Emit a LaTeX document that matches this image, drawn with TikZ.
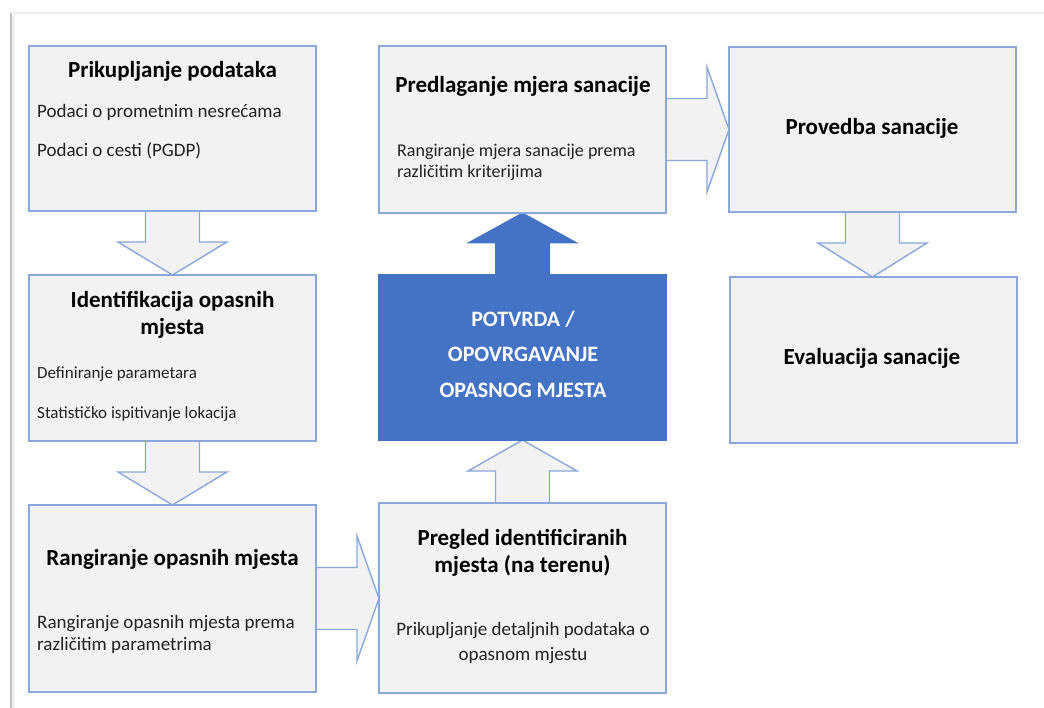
\documentclass[tikz,border=0pt]{standalone}
\usepackage{fontspec}
\setmainfont{Carlito}
\usetikzlibrary{calc,backgrounds}
\definecolor{bordblue}{HTML}{8AA8DC}
\definecolor{boxfill}{HTML}{F2F2F2}
\definecolor{darkblue}{HTML}{4472C4}
\definecolor{txt}{HTML}{222222}
\newcommand\dnarr[3]{\draw[#1] ($(#2.south)+(-27,-2)$) -- ($(#2.south)+(-27,31)$) -- ($(#2.south)+(-54.5,31)$) -- (#2.south |- #3.north) -- ($(#2.south)+(54.5,31)$) -- ($(#2.south)+(27,31)$) -- ($(#2.south)+(27,-2)$);}
\newcommand\uparr[3]{\draw[#1] ($(#2.north)+(-27,2)$) -- ($(#2.north)+(-27,-32)$) -- ($(#2.north)+(-54.5,-32)$) -- (#2.north |- #3.south) -- ($(#2.north)+(54.5,-32)$) -- ($(#2.north)+(27,-32)$) -- ($(#2.north)+(27,2)$);}
\newcommand\rtarr[3]{\draw[#1] ($(#2.east)+(-2,-31)$) -- ($(#2.east)+(41,-31)$) -- ($(#2.east)+(41,-62.5)$) -- (#3.west |- #2.east) -- ($(#2.east)+(41,62.5)$) -- ($(#2.east)+(41,31)$) -- ($(#2.east)+(-2,31)$);}
\begin{document}
\begin{tikzpicture}[x=1pt,y=-1pt,
  box/.style={draw=bordblue, fill=boxfill, line width=1.4pt, inner sep=0pt, outer sep=0pt},
  bluebox/.style={draw=darkblue, fill=darkblue, line width=1.4pt, inner sep=0pt, outer sep=0pt},
  arr/.style={draw=bordblue, fill=boxfill, line width=1.4pt, line join=miter},
  bluearr/.style={draw=darkblue, fill=darkblue, line width=1pt},
  title/.style={font=\fontsize{23}{27}\selectfont\bfseries, text=black, inner sep=0pt, anchor=base},
  body/.style={font=\fontsize{19}{22}\selectfont, text=txt, inner sep=0pt, anchor=base west},
  bodyc/.style={font=\fontsize{19}{22}\selectfont, text=txt, inner sep=0pt, anchor=base},
  caps/.style={font=\fontsize{22}{26}\selectfont\bfseries, text=white, inner sep=0pt, anchor=base}
]
\useasboundingbox (0,0) rectangle (1044,708);
% page frame
\draw[line width=3pt, color=gray!12] (13,708) -- (13,15);
\draw[line width=1.8pt, color=gray!50] (11,708) -- (11,13);
\draw[line width=1.5pt, color=gray!15] (11,13) -- (1044,13);

% boxes
\node[box, minimum width=287, minimum height=165] (b1) at (172.5,128.5) {};
\node[box, minimum width=287, minimum height=166] (b2) at (172.5,358) {};
\node[box, minimum width=287, minimum height=187] (b3) at (172.5,598.5) {};
\node[box, minimum width=287, minimum height=167] (b4) at (522.5,129.5) {};
\node[bluebox, minimum width=287, minimum height=165] (b5) at (522.5,357.5) {};
\node[box, minimum width=287, minimum height=190] (b6) at (522.5,598) {};
\node[box, minimum width=287, minimum height=165] (b7) at (872.5,129.5) {};
\node[box, minimum width=287, minimum height=166] (b8) at (873.5,360) {};

% block arrows
\begin{pgfonlayer}{background}
\dnarr{arr}{b1}{b2}
\dnarr{arr}{b2}{b3}
\rtarr{arr}{b3}{b6}
\uparr{arr}{b6}{b5}
\uparr{bluearr}{b5}{b4}
\rtarr{arr}{b4}{b7}
\dnarr{arr}{b7}{b8}
\end{pgfonlayer}

% texts box 1
\node[title] (t1) at (172.5,78) {Prikupljanje podataka};
\node[body] (t1a) at (37,118) {Podaci o prometnim nesrećama};
\node[body] (t1b) at (37,157) {Podaci o cesti (PGDP)};
% box 2
\node[title] (t2) at (172.5,308) {Identifikacija opasnih};
\node[title] (t2l) at (172.5,335) {mjesta};
\node[body, font=\fontsize{17}{20}\selectfont] (t2a) at (37,378) {Definiranje parametara};
\node[body, font=\fontsize{17}{20}\selectfont] (t2b) at (37,418) {Statističko ispitivanje lokacija};
% box 3
\node[title] (t3) at (172.5,565) {Rangiranje opasnih mjesta};
\node[body] (t3a) at (37,628) {Rangiranje opasnih mjesta prema};
\node[body] (t3b) at (37,650) {različitim parametrima};
% box 4
\node[title] (t4) at (523,93) {Predlaganje mjera sanacije};
\node[body, font=\fontsize{18}{21}\selectfont] (t4a) at (397,157) {Rangiranje mjera sanacije prema};
\node[body, font=\fontsize{18}{21}\selectfont] (t4b) at (397,178) {različitim kriterijima};
% box 5
\node[caps] (t5a) at (523,327) {POTVRDA /};
\node[caps] (t5b) at (523,362) {OPOVRGAVANJE};
\node[caps] (t5c) at (523,397) {OPASNOG MJESTA};
% box 6
\node[title] (t6) at (522.5,545) {Pregled identificiranih};
\node[title] (t6l) at (522.5,572) {mjesta (na terenu)};
\node[bodyc] (t6a) at (523,635) {Prikupljanje detaljnih podataka o};
\node[bodyc] (t6b) at (523,660) {opasnom mjestu};
% box 7, 8
\node[title] (t7) at (872,135) {Provedba sanacije};
\node[title] (t8) at (872,365) {Evaluacija sanacije};
\end{tikzpicture}
\end{document}
